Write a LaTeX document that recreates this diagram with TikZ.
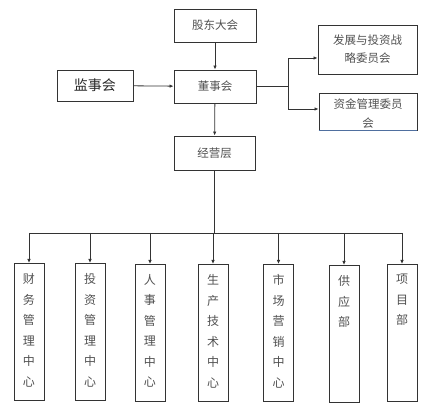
\documentclass[tikz,border=0pt]{standalone}
\usepackage{fontspec}
\newfontfamily\cjk{Noto Sans CJK SC}
\usetikzlibrary{arrows.meta}

\definecolor{linegray}{HTML}{333333}
\definecolor{textgray}{HTML}{505050}
\definecolor{edgeblue}{HTML}{4F6F9F}
\tikzset{
  box/.style={draw=linegray,line width=0.9pt,inner sep=0pt,text=textgray,
    font=\cjk\fontsize{11.5}{18}\selectfont,align=center},
  vbox/.style={box,anchor=north,minimum width=30pt,minimum height=137pt},
  link/.style={draw=linegray,line width=0.8pt,-{Latex[length=4pt,width=3.5pt]}},
  line/.style={draw=linegray,line width=0.8pt}
}
\newcommand{\vtext}[1]{\parbox[t][137pt][t]{30pt}{\centering\fontsize{12}{20.5}\selectfont\vspace*{10pt}#1}}

\begin{document}
\begin{tikzpicture}[x=1pt,y=-1pt]
\useasboundingbox (0,0) rectangle (432,419);

% upper levels
\node[box,minimum width=82pt,minimum height=33pt] (gd) at (215,25.5) {股东大会};
\node[box,minimum width=82pt,minimum height=33pt] (ds) at (215,86.5) {董事会};
\node[box,minimum width=76pt,minimum height=31pt,text=black!85,font=\cjk\fontsize{14}{16}\selectfont] (js) at (95,85.5) {监事会};
\node[box,minimum width=81pt,minimum height=34pt] (jy) at (214.5,153) {经营层};

% committees
\node[box,minimum width=99pt,minimum height=49pt] (fz) at (367.5,49.5) {发展与投资战\\略委员会};
\node[box] (zj) at (368,111.5) {\parbox[c][37pt][t]{98pt}{\centering\fontsize{11.5}{19}\selectfont\vspace*{6pt}资金管理委员\\会}};
\draw[edgeblue,line width=0.9pt] (zj.south west) -- (zj.south east);

% departments
\node[vbox] (d1) at (29,263) {\vtext{财\\务\\管\\理\\中\\心}};
\node[vbox] (d2) at (90,263) {\vtext{投\\资\\管\\理\\中\\心}};
\node[vbox] (d3) at (150,264) {\vtext{人\\事\\管\\理\\中\\心}};
\node[vbox] (d4) at (213,264) {\vtext{生\\产\\技\\术\\中\\心}};
\node[vbox] (d5) at (278.5,264) {\vtext{市\\场\\营\\销\\中\\心}};
\node[vbox] (d6) at (344,265) {\vtext{供\\应\\部}};
\node[vbox] (d7) at (402,264) {\vtext{项\\目\\部}};

% connectors
\draw[link] (gd) -- (ds);
\draw[link] (js) -- (ds);
\draw[link] (ds) -- (jy);
\coordinate (br) at (288,86.5);
\draw[line] (ds.east) -- (br);
\draw[link] (br) |- ([yshift=-8.5pt]fz.west);
\draw[link] (br) |- ([yshift=2.5pt]zj.west);

\coordinate (bus) at (214.5,233);
\draw[line] (jy) -- (bus);
\draw[line] (d1.north |- bus) -- (d7.north |- bus);
\foreach \i in {1,...,7}
  \draw[link] (d\i.north |- bus) -- (d\i.north);
\end{tikzpicture}
\end{document}
